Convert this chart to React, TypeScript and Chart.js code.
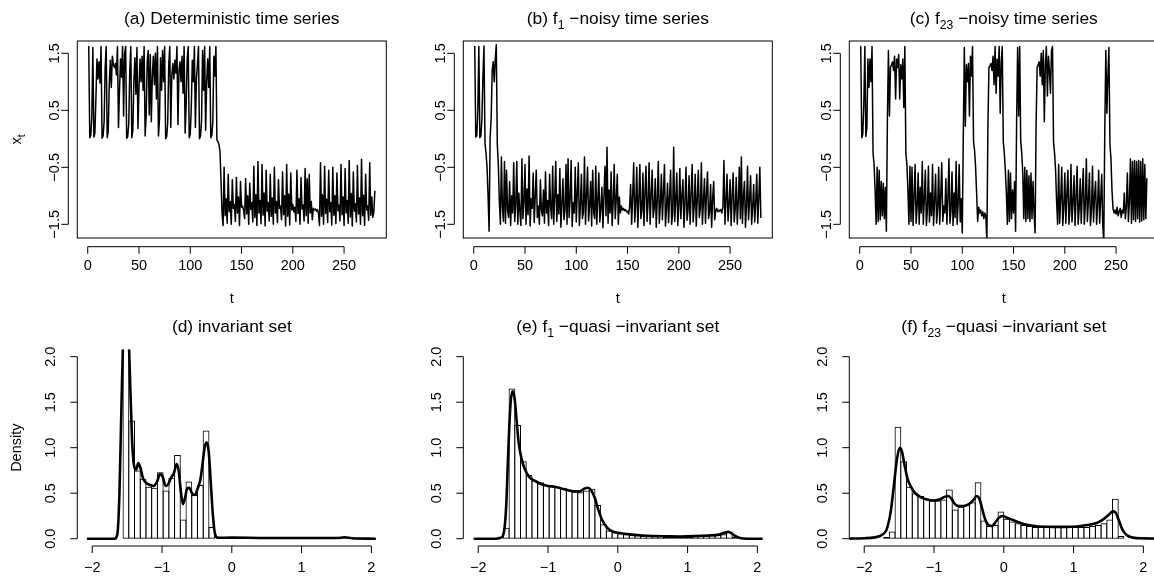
import React, { useEffect, useRef } from "react";
import { Chart, registerables } from "chart.js";

Chart.register(...registerables);

const FONT = '"Liberation Sans", Arial, Helvetica, sans-serif';
const MINUS = "\u2212";
const BASE_PX = 14.5;
const TITLE_PX = 17.4;
const TICK = 7;

// ---------- axis ticks ----------
const timeTicks = [0, 50, 100, 150, 200, 250];
const levelTicks = [-1.5, -0.5, 0.5, 1.5];
const stateTicks = [-2, -1, 0, 1, 2];
const densityTicks = [0, 0.5, 1, 1.5, 2];

// ---------- time series (t = 1..280) ----------
const seriesDeterministic = [
  1.62, 0.02, 0.06, 0.38, 1.60, 0.03, 0.10, 0.72, 1.40, 1.05,
  1.35, 0.98, 1.62, 0.01, 0.05, 0.30, 1.25, 1.62, 0.02, 0.12,
  0.95, 1.38, 0.90, 1.45, 1.30, 1.25, 1.32, 1.12, 1.62, 0.20,
  0.85, 1.40, 1.08, 1.62, 0.40, 1.50, 1.62, 0.01, 0.04, 0.26,
  1.20, 1.62, 0.02, 0.15, 1.02, 1.42, 0.78, 1.60, 0.18, 0.90,
  1.40, 1.00, 1.45, 0.85, 1.62, 0.05, 0.40, 1.35, 1.55, 0.42,
  1.48, 0.30, 1.10, 1.45, 0.95, 1.50, 0.70, 1.62, 0.05, 0.35,
  1.42, 0.85, 1.55, 1.00, 1.62, 0.00, 0.04, 0.28, 1.30, 1.62,
  0.20, 1.10, 1.32, 1.05, 1.38, 1.15, 1.62, 0.25, 1.20, 1.35,
  1.00, 1.45, 0.80, 1.62, 0.10, 0.60, 1.40, 1.62, 0.02, 0.08,
  0.55, 1.38, 1.00, 1.62, 0.20, 1.05, 1.30, 1.62, 0.00, 0.05,
  0.32, 1.55, 0.85, 1.62, 0.15, 1.00, 1.40, 0.90, 1.62, 0.02,
  0.06, 0.30, 1.45, 1.10, 1.62, -0.02, -0.05, -0.10, -0.22, -0.75,
  -1.30, -1.52, -0.50, -1.35, -1.05, -1.48, -0.62, -1.28, -1.10, -1.50,
  -0.72, -1.22, -1.15, -1.45, -0.68, -1.30, -1.02, -1.52, -0.75, -1.20,
  -1.18, -1.25, -1.40, -0.70, -1.32, -1.00, -1.50, -0.78, -1.24, -1.12,
  -1.46, -0.48, -1.38, -0.98, -1.52, -0.40, -1.30, -1.08, -1.49, -0.45,
  -1.34, -0.95, -1.53, -0.55, -1.27, -1.12, -1.44, -0.62, -1.36, -1.04,
  -1.50, -0.50, -1.30, -1.10, -1.47, -0.72, -1.22, -1.18, -1.42, -0.58,
  -1.33, -1.00, -1.53, -0.45, -1.36, -0.97, -1.51, -0.60, -1.25, -1.15,
  -1.28, -1.20, -1.45, -0.55, -1.31, -1.05, -1.50, -0.68, -1.23, -1.16,
  -1.44, -0.52, -1.35, -0.70, -1.48, -0.62, -1.30, -1.10, -1.42, -1.22,
  -1.25, -1.23, -1.27, -1.24, -1.30, -1.52, -0.42, -1.36, -0.98, -1.50,
  -0.48, -1.31, -1.06, -1.47, -0.55, -1.28, -1.12, -1.51, -0.50, -1.34,
  -1.00, -1.49, -0.60, -1.26, -1.16, -1.44, -0.45, -1.33, -1.02, -1.52,
  -0.52, -1.30, -1.08, -1.48, -0.38, -1.37, -0.96, -1.53, -0.58, -1.27,
  -1.14, -1.46, -0.47, -1.32, -1.04, -1.50, -0.36, -1.35, -0.99, -1.52,
  -0.62, -1.25, -1.18, -1.43, -0.42, -1.34, -1.02, -1.38, -1.28, -0.92,
];

const seriesNoisyF1 = [
  1.62, 0.03, 0.06, 0.50, 1.62, 0.02, 0.05, 0.35, 1.10, 1.63,
  -0.08, -0.25, -0.50, -1.00, -1.62, 0.02, 0.35, 1.20, 1.35, 1.00,
  1.40, 1.65, -0.10, -0.45, -1.10, -1.50, -0.32, -1.20, -1.45, -0.40,
  -1.48, -0.55, -1.25, -1.38, -0.75, -1.52, -1.00, -1.30, -0.42, -1.45,
  -1.15, -0.40, -1.50, -0.95, -1.28, -1.52, -0.35, -1.40, -1.10, -0.45,
  -1.50, -0.88, -1.33, -0.30, -1.53, -1.05, -1.22, -0.60, -1.47, -1.00,
  -0.55, -1.38, -1.18, -1.50, -0.72, -1.26, -1.35, -0.90, -1.48, -0.58,
  -1.30, -1.08, -1.52, -0.62, -1.20, -1.40, -0.48, -1.50, -1.02, -0.40,
  -1.45, -0.98, -1.32, -0.52, -1.55, -1.15, -0.70, -1.42, -1.25, -0.45,
  -1.50, -0.35, -1.38, -1.06, -0.38, -1.54, -1.12, -1.30, -0.50, -1.46,
  -0.95, -0.42, -1.52, -1.20, -0.62, -1.40, -1.28, -0.32, -1.50, -1.00,
  -0.50, -1.44, -1.18, -0.75, -1.53, -0.55, -1.30, -1.40, -0.48, -1.50,
  -1.08, -0.60, -1.46, -1.22, -0.85, -1.56, -1.00, -0.48, -1.35, -0.15,
  -1.48, -0.90, -1.30, -0.58, -1.52, -1.12, -0.45, -1.40, -1.05, -0.62,
  -1.50, -1.02, -1.30, -1.18, -1.25, -1.22, -1.26, -1.24, -1.28, -1.27,
  -1.32, -1.20, -0.80, -1.50, -1.00, -0.42, -1.46, -1.15, -0.50, -1.55,
  -1.08, -0.45, -1.40, -1.25, -0.60, -1.52, -0.95, -0.48, -1.45, -1.12,
  -0.42, -1.50, -1.00, -0.55, -1.38, -1.22, -0.70, -1.55, -1.05, -0.40,
  -1.48, -1.15, -0.62, -1.42, -0.95, -0.45, -1.53, -1.20, -0.78, -1.47,
  -1.02, -0.55, -1.50, -1.30, -0.15, -1.45, -1.08, -0.60, -1.52, -1.20,
  -0.52, -1.40, -1.00, -0.72, -1.55, -1.12, -0.50, -1.43, -1.25, -0.65,
  -1.50, -0.98, -0.45, -1.46, -1.18, -0.62, -1.53, -1.05, -0.55, -1.38,
  -1.22, -0.42, -1.50, -1.10, -0.70, -1.48, -0.96, -0.58, -1.40, -1.28,
  -0.80, -1.55, -1.05, -0.75, -1.42, -1.26, -1.22, -1.28, -1.25, -1.27,
  -1.24, -1.30, -1.20, -0.38, -1.50, -1.08, -0.62, -1.44, -1.15, -0.72,
  -1.52, -1.00, -0.60, -1.46, -1.22, -0.68, -1.50, -1.10, -0.50, -1.40,
  -0.32, -1.48, -1.02, -0.75, -1.55, -1.18, -0.48, -1.42, -1.08, -0.65,
  -1.50, -1.20, -0.80, -1.46, -1.12, -0.62, -1.48, -1.05, -0.50, -1.38,
];

const seriesNoisyF23 = [
  1.62, 0.02, 0.08, 0.60, 1.62, 0.04, 0.20, 1.40, 0.90, 1.40,
  1.00, 1.62, -0.25, -0.45, -0.90, -1.50, -0.50, -1.45, -0.55, -1.42,
  -0.75, -1.35, -0.78, -1.40, -0.85, -1.62, 0.35, 1.55, 0.40, 1.25,
  1.30, 1.35, 1.20, 1.45, 0.70, 1.40, 1.25, 1.48, 0.70, 1.30,
  1.05, 1.40, 0.55, 1.62, -0.25, -0.45, -0.90, -1.50, -0.48, -1.45,
  -0.50, -1.52, -1.00, -0.45, -1.48, -1.20, -0.60, -1.50, -0.85, -1.30,
  -0.40, -1.50, -1.05, -0.55, -1.52, -1.25, -0.48, -1.46, -0.95, -1.35,
  -0.45, -1.52, -1.10, -0.62, -1.48, -1.22, -0.50, -1.50, -1.00, -0.42,
  -1.45, -1.18, -1.30, -0.70, -1.50, -1.05, -0.35, -1.48, -1.25, -0.58,
  -1.52, -0.95, -1.38, -0.40, -1.50, -1.12, -0.45, -1.46, -1.05, -1.65,
  0.05, 1.60, 0.22, 1.30, 1.00, 1.32, 0.40, 1.45, 1.10, 1.62,
  -0.05, -0.20, -0.50, -0.95, -1.45, -1.20, -1.30, -1.25, -1.35, -1.28,
  -1.40, -1.30, -1.36, -1.80, 0.20, 1.25, 1.28, 1.32, 1.20, 1.45,
  0.95, 1.62, 0.80, 1.40, 1.10, 1.62, 0.45, 1.35, 1.62, -0.05,
  -0.25, -0.55, -0.95, -1.50, -0.55, -1.45, -0.60, -1.40, -0.90, -1.30,
  -0.75, -1.62, 0.30, 1.60, 0.40, 1.62, -0.05, -0.25, -0.60, -1.40,
  -0.50, -1.45, -0.55, -1.40, -0.65, -1.45, -0.60, -1.40, -0.75, -1.30,
  -1.65, 0.25, 1.25, 1.30, 1.35, 1.10, 1.50, 0.95, 1.55, 0.30,
  1.30, 1.62, 0.75, 1.45, 1.20, 0.80, 1.55, 1.62, -0.05, -0.25,
  -0.55, -1.10, -1.50, -0.45, -1.48, -1.05, -0.50, -1.52, -1.20, -0.60,
  -1.48, -0.98, -0.55, -1.50, -1.25, -0.45, -1.46, -1.10, -0.65, -1.52,
  -1.02, -0.48, -1.50, -1.22, -0.70, -1.48, -0.95, -0.52, -1.50, -1.15,
  -0.35, -1.45, -1.08, -0.60, -1.52, -1.25, -0.48, -1.46, -1.00, -0.75,
  -1.50, -1.18, -0.55, -1.48, -1.05, -0.62, -1.52, -1.80, 0.20, 1.55,
  0.45, 1.10, 1.60, -0.08, -0.35, -0.90, -1.22, -1.30, -1.25, -1.32,
  -1.20, -1.35, -1.28, -1.22, -1.38, -1.25, -1.30, -0.95, -1.40, -1.20,
  -0.60, -1.45, -1.10, -0.35, -1.48, -0.40, -1.42, -0.38, -1.45, -0.40,
  -1.40, -0.38, -1.46, -0.40, -1.44, -0.35, -1.42, -0.45, -1.40, -0.70,
];

// ---------- histograms (42 bins of width 0.082 from -1.722) ----------
const binStart = -1.722;
const binWidth = 0.082;

const histInvariant = [
  0, 0, 2.30, 1.30, 0.75, 0.66, 0.57, 0.56, 0.73, 0.53,
  0.67, 0.92, 0.21, 0.63, 0.48, 0.59, 1.19, 0.13, 0, 0,
  0, 0, 0, 0, 0, 0, 0, 0, 0, 0,
  0, 0, 0, 0, 0, 0, 0, 0, 0, 0,
  0, 0,
];

const histQuasiF1 = [
  0, 0.12, 1.65, 1.25, 0.85, 0.70, 0.64, 0.62, 0.59, 0.58,
  0.57, 0.56, 0.54, 0.52, 0.51, 0.53, 0.55, 0.37, 0.16, 0.09,
  0.07, 0.06, 0.05, 0.04, 0.04, 0.03, 0.03, 0.03, 0.03, 0.02,
  0.02, 0.02, 0.02, 0.02, 0.03, 0.03, 0.03, 0.04, 0.04, 0.05,
  0.08, 0.02,
];

const histQuasiF23 = [
  0.02, 0.08, 1.23, 0.85, 0.57, 0.50, 0.47, 0.44, 0.42, 0.42,
  0.43, 0.54, 0.32, 0.35, 0.37, 0.40, 0.62, 0.20, 0.14, 0.15,
  0.30, 0.22, 0.19, 0.17, 0.15, 0.14, 0.13, 0.13, 0.13, 0.13,
  0.13, 0.13, 0.13, 0.13, 0.13, 0.13, 0.14, 0.15, 0.17, 0.21,
  0.44, 0.03,
];

// ---------- kernel density curves [x, density] ----------
const densityInvariant: [number, number][] = [
  [-2.06, 0], [-1.8, 0], [-1.68, 0], [-1.64, 0.05], [-1.61, 0.5], [-1.58, 1.5],
  [-1.55, 2.4], [-1.52, 2.7], [-1.49, 2.5], [-1.46, 1.8], [-1.43, 1.1], [-1.40, 0.80],
  [-1.37, 0.76], [-1.34, 0.83], [-1.31, 0.78], [-1.27, 0.66], [-1.22, 0.61], [-1.17, 0.59],
  [-1.12, 0.58], [-1.07, 0.63], [-1.03, 0.71], [-0.99, 0.68], [-0.95, 0.58], [-0.91, 0.60],
  [-0.87, 0.67], [-0.83, 0.72], [-0.79, 0.82], [-0.76, 0.74], [-0.73, 0.52], [-0.70, 0.38],
  [-0.67, 0.45], [-0.64, 0.55], [-0.61, 0.56], [-0.57, 0.50], [-0.53, 0.48], [-0.49, 0.55],
  [-0.45, 0.65], [-0.42, 0.82], [-0.39, 1.00], [-0.36, 1.06], [-0.33, 0.95], [-0.30, 0.60],
  [-0.27, 0.25], [-0.24, 0.05], [-0.20, 0.01], [0.0, 0.012], [0.5, 0.008], [1.0, 0.008],
  [1.5, 0.008], [1.62, 0.015], [1.72, 0.005], [2.05, 0],
];

const densityQuasiF1: [number, number][] = [
  [-2.05, 0], [-1.75, 0], [-1.68, 0.01], [-1.63, 0.08], [-1.60, 0.35], [-1.57, 0.95],
  [-1.54, 1.45], [-1.51, 1.62], [-1.48, 1.55], [-1.45, 1.30], [-1.42, 1.05], [-1.38, 0.88],
  [-1.33, 0.76], [-1.27, 0.68], [-1.20, 0.64], [-1.10, 0.60], [-1.00, 0.58], [-0.90, 0.57],
  [-0.80, 0.55], [-0.70, 0.53], [-0.62, 0.52], [-0.55, 0.52], [-0.48, 0.55], [-0.43, 0.56],
  [-0.38, 0.53], [-0.33, 0.45], [-0.28, 0.32], [-0.22, 0.20], [-0.15, 0.12], [-0.08, 0.08],
  [0.0, 0.065], [0.1, 0.055], [0.2, 0.045], [0.35, 0.035], [0.5, 0.03], [0.7, 0.027],
  [0.9, 0.025], [1.1, 0.028], [1.3, 0.035], [1.45, 0.045], [1.53, 0.065], [1.58, 0.075],
  [1.63, 0.06], [1.68, 0.03], [1.75, 0.008], [1.85, 0], [2.06, 0],
];

const densityQuasiF23: [number, number][] = [
  [-2.25, 0.001], [-2.0, 0.005], [-1.85, 0.015], [-1.75, 0.04], [-1.68, 0.10], [-1.62, 0.30],
  [-1.57, 0.62], [-1.53, 0.88], [-1.49, 1.00], [-1.46, 0.96], [-1.42, 0.80], [-1.38, 0.66],
  [-1.33, 0.57], [-1.27, 0.50], [-1.20, 0.46], [-1.10, 0.43], [-1.00, 0.42], [-0.92, 0.43],
  [-0.85, 0.46], [-0.80, 0.47], [-0.75, 0.44], [-0.70, 0.38], [-0.65, 0.36], [-0.58, 0.36],
  [-0.50, 0.38], [-0.44, 0.42], [-0.39, 0.47], [-0.35, 0.44], [-0.31, 0.33], [-0.27, 0.22],
  [-0.22, 0.15], [-0.17, 0.14], [-0.12, 0.18], [-0.07, 0.23], [-0.02, 0.25], [0.05, 0.23],
  [0.15, 0.20], [0.25, 0.17], [0.35, 0.15], [0.5, 0.135], [0.7, 0.13], [0.9, 0.13],
  [1.05, 0.135], [1.2, 0.15], [1.32, 0.17], [1.42, 0.21], [1.50, 0.26], [1.56, 0.30],
  [1.60, 0.29], [1.65, 0.20], [1.70, 0.10], [1.76, 0.04], [1.85, 0.012], [2.0, 0.004],
  [2.25, 0.001],
];

// ---------- layout ----------
const CANVAS_W = 390;
const COL_PITCH = 386;
const TOP_H = 310;
const BOT_H = 273;
const PLOT_L = 77.3;
const PLOT_R = 386.3;
const TS_X = [-10.16, 291.16];
const TS_Y = [-1.74, 1.716];
const ST_X = [-2.214, 2.214];
const DN_Y = [-0.08, 2.08];

type Part = { t: string; sub?: boolean };

interface PanelCfg {
  id: string;
  col: number;
  kind: "ts" | "hist";
  title: Part[];
  yLabel?: Part[];
  series?: number[];
  hist?: number[];
  density?: [number, number][];
}

const panels: PanelCfg[] = [
  { id: "a", col: 0, kind: "ts", title: [{ t: "(a) Deterministic time series" }], yLabel: [{ t: "x" }, { t: "t", sub: true }], series: seriesDeterministic },
  { id: "b", col: 1, kind: "ts", title: [{ t: "(b) f" }, { t: "1", sub: true }, { t: " " + MINUS + "noisy time series" }], series: seriesNoisyF1 },
  { id: "c", col: 2, kind: "ts", title: [{ t: "(c) f" }, { t: "23", sub: true }, { t: " " + MINUS + "noisy time series" }], series: seriesNoisyF23 },
  { id: "d", col: 0, kind: "hist", title: [{ t: "(d) invariant set" }], yLabel: [{ t: "Density" }], hist: histInvariant, density: densityInvariant },
  { id: "e", col: 1, kind: "hist", title: [{ t: "(e) f" }, { t: "1", sub: true }, { t: " " + MINUS + "quasi " + MINUS + "invariant set" }], hist: histQuasiF1, density: densityQuasiF1 },
  { id: "f", col: 2, kind: "hist", title: [{ t: "(f) f" }, { t: "23", sub: true }, { t: " " + MINUS + "quasi " + MINUS + "invariant set" }], hist: histQuasiF23, density: densityQuasiF23 },
];

function font(px: number) {
  return `${px}px ${FONT}`;
}

function signed(v: number, digits: number) {
  const s = Math.abs(v).toFixed(digits);
  return (v < 0 ? MINUS : "") + s;
}

function drawParts(ctx: CanvasRenderingContext2D, parts: Part[], x: number, y: number, px: number) {
  const subPx = px * 0.7;
  const widths = parts.map((p) => {
    ctx.font = font(p.sub ? subPx : px);
    return ctx.measureText(p.t).width;
  });
  const total = widths.reduce((s, w) => s + w, 0);
  let cx = x - total / 2;
  ctx.textAlign = "left";
  ctx.textBaseline = "alphabetic";
  parts.forEach((p, i) => {
    ctx.font = font(p.sub ? subPx : px);
    ctx.fillText(p.t, cx, y + (p.sub ? px * 0.28 : 0));
    cx += widths[i];
  });
}

function drawRotated(ctx: CanvasRenderingContext2D, parts: Part[], baseX: number, cy: number, px: number) {
  ctx.save();
  ctx.translate(baseX, cy);
  ctx.rotate(-Math.PI / 2);
  drawParts(ctx, parts, 0, 0, px);
  ctx.restore();
}

function makeAxesPlugin(cfg: PanelCfg) {
  return {
    id: "rStyleAxes" + cfg.id,
    afterDraw(chart: any) {
      const ctx: CanvasRenderingContext2D = chart.ctx;
      const a = chart.chartArea;
      const xs = chart.scales.x;
      const ys = chart.scales.y;
      const isTs = cfg.kind === "ts";
      ctx.save();
      ctx.strokeStyle = "#000";
      ctx.fillStyle = "#000";
      ctx.lineWidth = 1;
      if (isTs) ctx.strokeRect(a.left, a.top, a.right - a.left, a.bottom - a.top);

      const xT = isTs ? timeTicks : stateTicks;
      const yT = isTs ? levelTicks : densityTicks;
      const xAxisY = isTs ? a.bottom + 8.7 : a.bottom;
      const yAxisX = isTs ? a.left - 9 : a.left;

      ctx.beginPath();
      ctx.moveTo(xs.getPixelForValue(xT[0]), xAxisY);
      ctx.lineTo(xs.getPixelForValue(xT[xT.length - 1]), xAxisY);
      xT.forEach((v) => {
        const px = xs.getPixelForValue(v);
        ctx.moveTo(px, xAxisY);
        ctx.lineTo(px, xAxisY + TICK);
      });
      ctx.moveTo(yAxisX, ys.getPixelForValue(yT[0]));
      ctx.lineTo(yAxisX, ys.getPixelForValue(yT[yT.length - 1]));
      yT.forEach((v) => {
        const py = ys.getPixelForValue(v);
        ctx.moveTo(yAxisX, py);
        ctx.lineTo(yAxisX - TICK, py);
      });
      ctx.stroke();

      const xLabBase = isTs ? a.bottom + 32 : a.bottom + 25.9;
      xT.forEach((v) => {
        drawParts(ctx, [{ t: isTs ? String(v) : signed(v, 0) }], xs.getPixelForValue(v), xLabBase, BASE_PX);
      });
      const yLabBase = isTs ? 58.5 : 55.2;
      yT.forEach((v) => {
        drawRotated(ctx, [{ t: signed(v, 1) }], yLabBase, ys.getPixelForValue(v), BASE_PX);
      });

      const midX = (a.left + a.right) / 2;
      const midY = (a.top + a.bottom) / 2;
      if (isTs) drawParts(ctx, [{ t: "t" }], midX, a.bottom + 65.3, BASE_PX);
      if (cfg.yLabel) drawRotated(ctx, cfg.yLabel, 21, midY, BASE_PX);
      drawParts(ctx, cfg.title, midX, a.top - 17, TITLE_PX);
      ctx.restore();
    },
  };
}

function Panel({ cfg }: { cfg: PanelCfg }) {
  const ref = useRef<HTMLCanvasElement | null>(null);
  const isTs = cfg.kind === "ts";
  const H = isTs ? TOP_H : BOT_H;

  useEffect(() => {
    const canvas = ref.current;
    if (!canvas) return;
    const plotTop = isTs ? 41 : 39.4;
    const plotBottom = isTs ? 238 : 236;
    const datasets: any[] = [];
    if (isTs) {
      datasets.push({
        type: "line",
        data: cfg.series!.map((v, i) => ({ x: i + 1, y: v })),
        borderColor: "#000",
        borderWidth: 1.5,
        borderJoinStyle: "round",
        borderCapStyle: "round",
        pointRadius: 0,
        tension: 0,
        clip: 0,
      });
    } else {
      // bars overlap by exactly one border width so shared edges are a single 1px line
      const binPx = (binWidth * (PLOT_R - PLOT_L)) / (ST_X[1] - ST_X[0]);
      datasets.push({
        type: "line",
        order: 0,
        data: cfg.density!.map(([x, y]) => ({ x, y })),
        borderColor: "#000",
        borderWidth: 2.6,
        borderJoinStyle: "round",
        borderCapStyle: "round",
        cubicInterpolationMode: "monotone",
        pointRadius: 0,
        clip: 0,
      });
      datasets.push({
        type: "bar",
        order: 1,
        data: cfg.hist!.map((h, i) => ({ x: binStart + (i + 0.5) * binWidth, y: h })),
        backgroundColor: "rgba(255,255,255,0)",
        borderColor: "#000",
        borderWidth: 1,
        borderSkipped: false,
        inflateAmount: 0,
        barPercentage: (binPx + 1) / binPx,
        categoryPercentage: 1,
        clip: 0,
      });
    }

    const chart = new Chart(canvas, {
      type: isTs ? "line" : "bar",
      data: { datasets },
      options: {
        animation: false,
        responsive: false,
        devicePixelRatio: 1,
        events: [],
        layout: {
          autoPadding: false,
          padding: { left: PLOT_L, right: CANVAS_W - PLOT_R, top: plotTop, bottom: H - plotBottom },
        },
        plugins: { legend: { display: false }, tooltip: { enabled: false }, title: { display: false } },
        scales: {
          x: isTs
            ? { type: "linear", display: false, min: TS_X[0], max: TS_X[1], offset: false }
            : { type: "linear", display: false, min: ST_X[0], max: ST_X[1], offset: false },
          y: isTs
            ? { type: "linear", display: false, min: TS_Y[0], max: TS_Y[1] }
            : { type: "linear", display: false, min: DN_Y[0], max: DN_Y[1] },
        },
      } as any,
      plugins: [makeAxesPlugin(cfg)],
    });
    return () => chart.destroy();
  }, [cfg]);

  return (
    <canvas
      ref={ref}
      width={CANVAS_W}
      height={H}
      style={{ position: "absolute", left: cfg.col * COL_PITCH, top: isTs ? 0 : TOP_H, width: CANVAS_W, height: H }}
    />
  );
}

export default function App() {
  return (
    <div style={{ position: "fixed", left: 0, top: 0, width: 1154, height: 583, overflow: "hidden", background: "#fff" }}>
      {panels.map((p) => (
        <Panel key={p.id} cfg={p} />
      ))}
    </div>
  );
}
